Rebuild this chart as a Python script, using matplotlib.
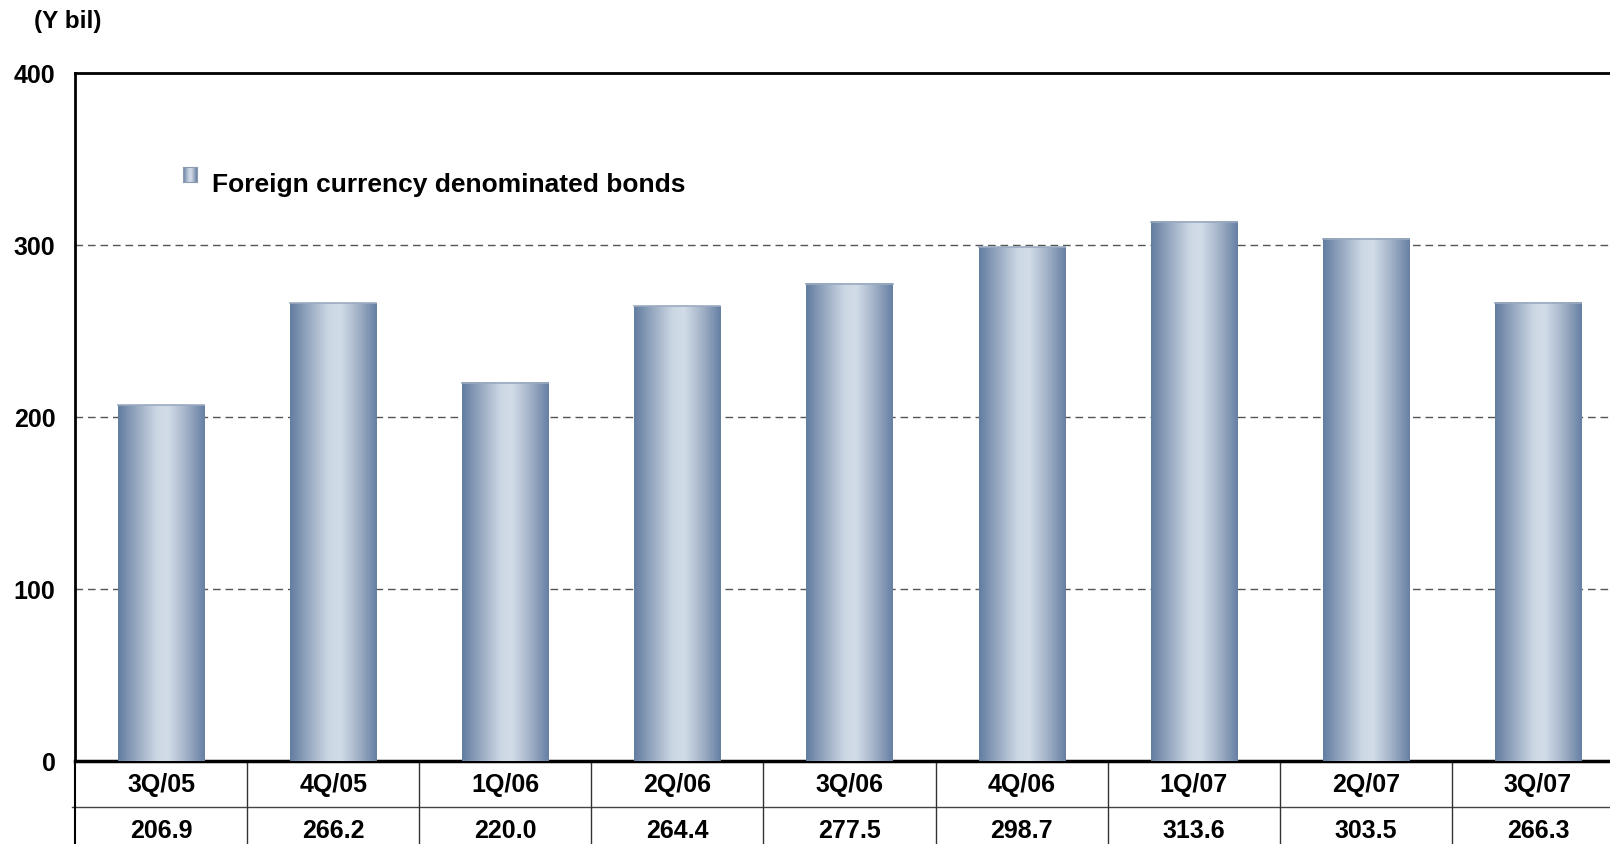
import numpy as np
import matplotlib
matplotlib.use("Agg")
import matplotlib.pyplot as plt
from matplotlib.colors import LinearSegmentedColormap
from matplotlib.transforms import blended_transform_factory

plt.rcParams['font.family'] = ['Liberation Sans', 'DejaVu Sans']
plt.rcParams['font.weight'] = 'bold'

quarters = ['3Q/05', '4Q/05', '1Q/06', '2Q/06', '3Q/06', '4Q/06', '1Q/07', '2Q/07', '3Q/07']
bonds = [206.9, 266.2, 220.0, 264.4, 277.5, 298.7, 313.6, 303.5, 266.3]
yticks = [0, 100, 200, 300, 400]
series_name = 'Foreign currency denominated bonds'
unit_label = '(Y bil)'

# dark edge -> light centre -> dark edge, like a shaded cylinder
bar_cmap = LinearSegmentedColormap.from_list(
    'cyl', [(0.0, '#627da0'), (0.25, '#9fb0c6'), (0.45, '#cdd8e5'),
            (0.58, '#d2dce8'), (0.78, '#a3b3c8'), (1.0, '#6680a3')])
grad = np.linspace(0, 1, 256).reshape(1, -1)

fig = plt.figure(figsize=(16.1, 8.45), dpi=100)
ax = fig.add_axes([75 / 1610, 83 / 845, 1549 / 1610, 688 / 845])

x = np.arange(len(quarters))
bars = ax.bar(x, bonds, width=0.5, color='none', edgecolor='none', zorder=3)
for b in bars:
    x0, w, h = b.get_x(), b.get_width(), b.get_height()
    ax.imshow(grad, cmap=bar_cmap, extent=[x0, x0 + w, 0, h],
              aspect='auto', zorder=3, interpolation='bicubic')
    ax.plot([x0, x0 + w], [h, h], color='#9aaabf', lw=1.2, zorder=4)

ax.set_xlim(-0.5, len(quarters) - 0.5)
ax.set_ylim(0, 400)
ax.set_yticks(yticks)
ax.set_yticklabels([str(t) for t in yticks], fontsize=18, fontweight='bold')
ax.tick_params(axis='y', length=0, pad=14)
ax.set_xticks([])

for gy in yticks[1:-1]:
    ax.axhline(gy, color='#555555', lw=1, ls=(0, (5.5, 3.5)), zorder=1)

for side in ['left', 'top', 'bottom']:
    ax.spines[side].set_color('black')
ax.spines['left'].set_linewidth(2)
ax.spines['top'].set_linewidth(2)
ax.spines['bottom'].set_linewidth(2.5)
ax.spines['right'].set_visible(False)

# data table under the axis
trans = blended_transform_factory(ax.transData, ax.transAxes)
row_sep = -46 / 688
ax.plot([-0.52, len(quarters) - 0.5], [row_sep, row_sep], color='#444444',
        lw=1, transform=trans, clip_on=False)
ax.plot([-0.5, -0.5], [0, -0.2], color='black', lw=1.5, transform=trans, clip_on=False)
for i in range(1, len(quarters)):
    ax.plot([i - 0.5, i - 0.5], [0, -0.2], color='#333333', lw=1,
            transform=trans, clip_on=False)
for i, (q, v) in enumerate(zip(quarters, bonds)):
    ax.text(i, -30 / 688, q, transform=trans, ha='center', va='baseline',
            fontsize=18, fontweight='bold')
    ax.text(i, -76 / 688, f'{v:.1f}', transform=trans, ha='center', va='baseline',
            fontsize=18, fontweight='bold')

fig.text(34 / 1610, 1 - 28 / 845, unit_label, ha='left', va='baseline',
         fontsize=17.5, fontweight='bold')

# legend: small shaded square plus label
lax = fig.add_axes([183 / 1610, 1 - 183 / 845, 14 / 1610, 15 / 845])
lax.imshow(grad, cmap=bar_cmap, aspect='auto', interpolation='bicubic')
lax.set_xticks([])
lax.set_yticks([])
for s in lax.spines.values():
    s.set_color('#8c9bb0')
    s.set_linewidth(0.8)
fig.text(212 / 1610, 1 - 192 / 845, series_name, ha='left', va='baseline',
         fontsize=19, fontweight='bold')

fig.savefig('out.png', dpi=100)
